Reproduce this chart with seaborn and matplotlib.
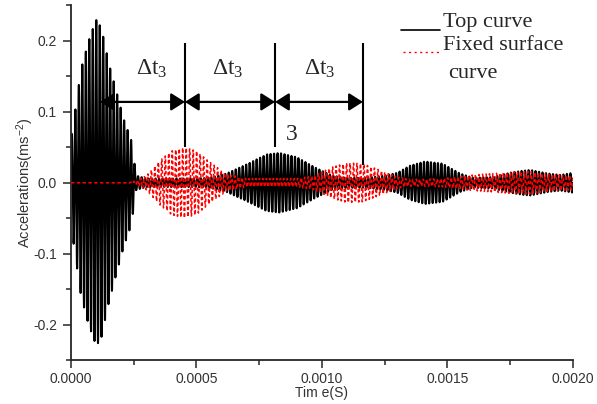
import numpy as np
import pandas as pd
import matplotlib
matplotlib.use("Agg")
import matplotlib.pyplot as plt
from matplotlib.lines import Line2D
from matplotlib.patches import ArrowStyle
import matplotlib.ticker as mticker
import seaborn as sns

# ---- data: wave-packet envelopes (s, m/s^2) ----
env_t = [0.0, 0.00002, 0.00004, 0.00007, 0.00010, 0.00012, 0.00015, 0.00018,
         0.00021, 0.00024, 0.00026, 0.00030, 0.00035, 0.00040, 0.00045, 0.00050,
         0.00055, 0.00062, 0.00070, 0.00078, 0.00083, 0.00090, 0.00097, 0.00104,
         0.00110, 0.00116, 0.00120, 0.00125, 0.00130, 0.00135, 0.00141, 0.00148,
         0.00155, 0.00160, 0.00168, 0.00175, 0.00180, 0.00183, 0.00190, 0.00195,
         0.00200]
top_env = [0.06, 0.11, 0.16, 0.20, 0.23, 0.22, 0.17, 0.13,
           0.09, 0.06, 0.01, 0.006, 0.006, 0.006, 0.006, 0.006,
           0.007, 0.013, 0.026, 0.040, 0.042, 0.036, 0.022, 0.010,
           0.007, 0.007, 0.008, 0.010, 0.014, 0.024, 0.030, 0.027,
           0.013, 0.007, 0.008, 0.014, 0.017, 0.018, 0.013, 0.011,
           0.014]
fixed_env = [0.0, 0.0, 0.0, 0.0, 0.0, 0.0, 0.0, 0.0,
             0.0, 0.001, 0.003, 0.010, 0.030, 0.045, 0.050, 0.045,
             0.030, 0.012, 0.006, 0.006, 0.006, 0.006, 0.010, 0.022,
             0.028, 0.027, 0.022, 0.015, 0.008, 0.005, 0.005, 0.006,
             0.009, 0.011, 0.013, 0.015, 0.016, 0.016, 0.012, 0.011,
             0.010]
carrier_hz = 72000.0
sample_hz = 2.5e6

# annotation geometry (time, acceleration)
mark_t = [0.000454, 0.000813, 0.001163]
mark_top = [0.197, 0.197, 0.197]
mark_bottom = [0.050, 0.050, 0.025]
arrow_t = [0.000116, 0.000454, 0.000813, 0.001163]
arrow_y = 0.114
dt_labels = ["Δt$_3$", "Δt$_3$", "Δt$_3$"]
dt_label_t = [0.000322, 0.000625, 0.000990]
dt_label_y = 0.160

# ---- build series ----
t = np.arange(0, 0.002 + 1 / sample_hz, 1 / sample_hz)
top = np.interp(t, env_t, top_env) * np.sin(2 * np.pi * carrier_hz * t)
fixed = np.interp(t, env_t, fixed_env) * np.sin(2 * np.pi * carrier_hz * t + 1.3)
df_top = pd.DataFrame({"t": t, "a": top})
df_fixed = pd.DataFrame({"t": t, "a": fixed})

sns.set_style("ticks")
plt.rcParams["font.family"] = ["Liberation Sans", "DejaVu Sans"]
plt.rcParams["mathtext.default"] = "regular"
plt.rcParams["axes.unicode_minus"] = False

fig = plt.figure(figsize=(5.97, 4.04), dpi=100)
ax = fig.add_axes([0.1189, 0.1089, 0.8409, 0.8775])

sns.lineplot(data=df_top, x="t", y="a", color="black", lw=1.5,
             estimator=None, sort=False, ax=ax, zorder=2)
sns.lineplot(data=df_fixed, x="t", y="a", color="red", lw=1.1,
             linestyle=(0, (2.2, 1.6)), estimator=None, sort=False, ax=ax, zorder=3)

ax.set_xlim(0, 0.002)
ax.set_ylim(-0.25, 0.25)
ax.xaxis.set_major_locator(mticker.MultipleLocator(0.0005))
ax.xaxis.set_minor_locator(mticker.MultipleLocator(0.00025))
ax.yaxis.set_major_locator(mticker.MultipleLocator(0.1))
ax.yaxis.set_minor_locator(mticker.MultipleLocator(0.05))
ax.xaxis.set_major_formatter(mticker.FormatStrFormatter("%.4f"))
ax.yaxis.set_major_formatter(mticker.FormatStrFormatter("%.1f"))
sns.despine(ax=ax)
for s in ("left", "bottom"):
    ax.spines[s].set_linewidth(1.3)
ax.tick_params(which="major", length=6, width=1.1, direction="out",
               labelsize=10, labelcolor="#333333", pad=4)
ax.tick_params(axis="x", which="major", pad=2.5)
ax.tick_params(which="minor", length=3.5, width=1.1, direction="out")
ax.set_xlabel("Tim e(S)", fontsize=10, color="#333333", labelpad=0)
ax.set_ylabel("Accelerations(ms$^{-2}$)", fontsize=10.5, color="#333333", labelpad=-2)

# annotations
ax.vlines(mark_t, mark_bottom, mark_top, color="black", lw=1.5, zorder=4)
astyle = ArrowStyle("<|-|>", head_length=0.6, head_width=0.38)
for x1, x2 in zip(arrow_t[:-1], arrow_t[1:]):
    ax.annotate("", xy=(x2, arrow_y), xytext=(x1, arrow_y),
                arrowprops=dict(arrowstyle=astyle, color="black", lw=1.6,
                                mutation_scale=14, shrinkA=0, shrinkB=0),
                zorder=5)
for lab, x in zip(dt_labels, dt_label_t):
    ax.text(x, dt_label_y, lab, ha="center", va="center", fontsize=17,
            family="Liberation Serif", zorder=5)
ax.text(0.00088, 0.068, "3", ha="center", va="center", fontsize=17,
        family="Liberation Serif", zorder=5)

# legend drawn in figure coordinates
W, H = 597, 404
def fx(px):
    return px / W
def fy(py):
    return 1 - py / H
fig.add_artist(Line2D([fx(401), fx(440)], [fy(30), fy(30)], color="black", lw=1.2))
fig.add_artist(Line2D([fx(403), fx(440)], [fy(52), fy(52)], color="red", lw=1.0,
                      linestyle=(0, (1.5, 2.5))))
fig.text(fx(443), fy(23), "Top curve", fontsize=16, family="Liberation Serif",
         va="center", ha="left")
fig.text(fx(443), fy(45), "Fixed surface", fontsize=16, family="Liberation Serif",
         va="center", ha="left")
fig.text(fx(448), fy(73), "curve", fontsize=16, family="Liberation Serif",
         va="center", ha="left")

fig.savefig("out.png", dpi=100)
